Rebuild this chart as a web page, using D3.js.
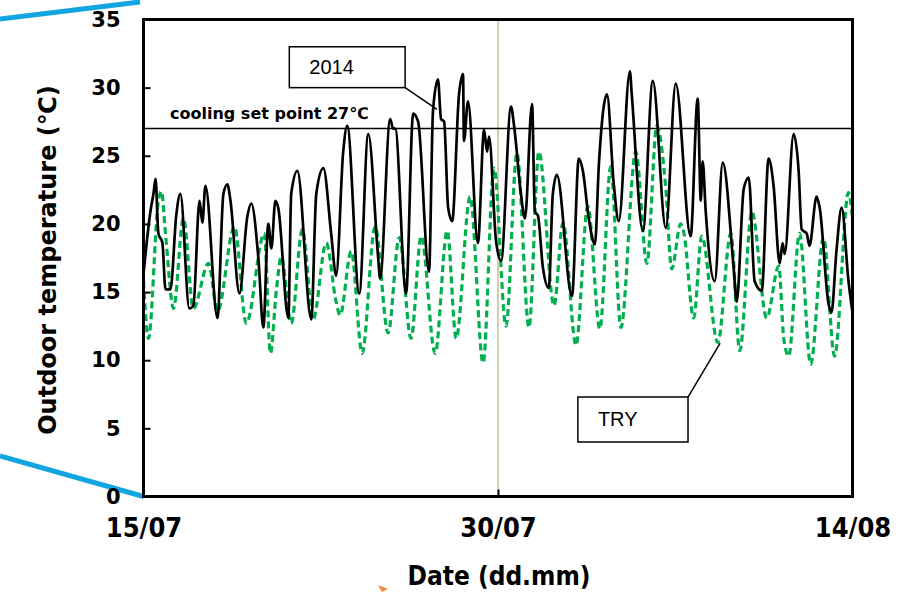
<html>
  <head>
    <meta charset="utf-8">
    <title>Outdoor temperature</title>
    <script src="https://d3js.org/d3.v7.min.js" charset="utf-8"></script>
    <style>
      body { margin: 0; background: #fff; }
      svg { display: block; }
    </style>
  </head>
  <body>
    <div id="chart"></div>

    <script>
      // days after 15/07 and temperatures (°C)
      const obs2014Days = [0.00, 0.30, 0.42, 0.51, 0.63, 0.80, 0.93, 1.14, 1.39, 1.56, 1.94, 2.11, 2.37, 2.49, 2.62,
        3.13, 3.38, 3.55, 3.68, 4.06, 4.39, 4.56, 4.86, 5.07, 5.28, 5.41, 5.58, 5.70, 6.13, 6.25, 6.51,
        7.10, 7.31, 7.61, 7.94, 8.15, 8.45, 8.62, 9.13, 9.51, 9.93, 10.01, 10.44, 10.56, 10.65, 11.11,
        11.41, 11.62, 12.08, 12.25, 12.46, 12.59, 12.72, 12.89, 13.06, 13.35, 13.52, 13.56, 13.73, 14.15,
        14.41, 14.54, 14.62, 14.92, 15.13, 15.55, 15.68, 15.97, 16.14, 16.44, 16.56, 16.69, 16.90, 17.15,
        17.32, 17.49, 18.13, 18.42, 18.59, 18.84, 19.10, 19.27, 19.61, 19.90, 20.11, 20.58, 20.66, 21.13,
        21.55, 22.10, 22.52, 23.15, 23.45, 23.58, 23.66, 23.79, 24.17, 24.51, 24.97, 25.10, 25.40, 25.61,
        25.86, 26.16, 26.45, 26.66, 26.92, 27.04, 27.13, 27.51, 27.72, 27.85, 28.06, 28.18, 28.48, 28.61,
        28.99, 29.11, 29.32, 29.54, 29.83, 30.00];
      const obs2014Temp = [16.3, 21.0, 22.2, 23.3, 19.3, 18.6, 15.2, 15.2, 20.7, 22.2, 13.8, 14.0, 21.7, 20.1, 22.8,
        13.1, 22.2, 22.9, 21.7, 14.9, 20.5, 21.5, 17.5, 12.4, 20.0, 18.2, 21.7, 21.2, 13.1, 22.2, 23.9,
        13.0, 22.2, 24.1, 19.3, 16.2, 25.3, 27.2, 14.9, 26.6, 17.5, 16.0, 27.7, 27.0, 27.0, 14.9,
        28.1, 27.5, 16.5, 28.3, 30.6, 27.7, 27.5, 21.2, 20.2, 29.5, 31.0, 26.1, 29.0, 18.6,
        26.9, 25.3, 26.4, 18.7, 17.3, 28.6, 27.2, 22.2, 20.4, 28.8, 20.9, 20.6, 16.8, 15.3,
        22.2, 23.6, 14.7, 24.8, 23.9, 20.4, 18.5, 24.4, 29.5, 22.9, 20.2, 31.2, 29.5, 19.5,
        30.5, 19.7, 30.3, 19.1, 29.2, 21.7, 24.6, 20.9, 15.8, 24.5, 16.8, 14.3, 22.6, 23.4,
        15.8, 15.1, 24.8, 22.8, 17.1, 18.6, 17.8, 26.6, 23.9, 19.6, 19.3, 18.4, 22.0, 21.2,
        14.1, 13.5, 18.0, 21.2, 15.8, 13.5];

      const tryDays = [0.00, 0.21, 0.63, 0.76, 0.93, 1.27, 1.69, 2.11, 2.75, 3.13, 3.85, 4.35, 5.11, 5.37, 5.62,
        5.83, 6.25, 6.72, 7.18, 7.73, 8.15, 8.32, 8.79, 9.25, 9.80, 10.35, 10.82, 11.32, 11.75, 12.34,
        12.85, 13.23, 13.82, 14.37, 14.83, 15.34, 15.80, 16.31, 16.73, 17.37, 17.75, 18.30, 18.80, 19.31,
        19.77, 20.20, 20.83, 21.30, 21.72, 22.10, 22.35, 22.73, 22.86, 23.28, 23.62, 24.30, 24.85, 25.23,
        25.74, 26.37, 26.88, 27.09, 27.30, 27.76, 28.23, 28.77, 29.24, 29.83, 30.00];
      const tryTemp = [15.8, 11.6, 21.7, 22.4, 19.3, 13.8, 20.4, 13.8, 17.1, 13.6, 19.8, 12.7, 19.3, 10.5, 15.1,
        17.6, 12.7, 19.6, 13.0, 18.6, 14.3, 13.3, 18.0, 10.5, 19.8, 12.0, 19.0, 11.6, 19.1, 10.5,
        19.5, 11.6, 22.0, 9.8, 24.1, 12.5, 25.2, 12.4, 25.3, 14.0, 20.1, 11.1, 21.3, 12.3,
        24.2, 12.4, 25.3, 17.1, 27.2, 22.6, 16.7, 20.0, 19.4, 13.1, 19.1, 11.3, 19.3, 10.7,
        20.9, 13.1, 16.9, 11.6, 10.3, 19.3, 9.7, 19.0, 10.3, 22.3, 20.4];

      const xTickDays = [0, 15, 30];
      const xTickLabels = ["15/07", "30/07", "14/08"];
      const yTicks = [0, 5, 10, 15, 20, 25, 30, 35];
      const setPoint = 27;

      const outerWidth = 916;
      const outerHeight = 592;
      const plot = { left: 143.5, right: 852.5, top: 19.5, bottom: 496.5 };

      const x = d3.scaleLinear().domain([0, 30]).range([plot.left, plot.right]);
      const y = d3.scaleLinear().domain([0, 35]).range([plot.bottom, plot.top]);

      const svg = d3.select("#chart").append("svg")
        .attr("width", outerWidth)
        .attr("height", outerHeight);

      // decoration left over from the slide (zoom lines)
      svg.append("line")
        .attr("x1", 0).attr("y1", 19).attr("x2", 140).attr("y2", 2)
        .attr("stroke", "#12a5e2").attr("stroke-width", 5);
      svg.append("line")
        .attr("x1", 0).attr("y1", 456).attr("x2", x(0)).attr("y2", y(0))
        .attr("stroke", "#12a5e2").attr("stroke-width", 5);
      svg.append("path")
        .attr("d", "M378,585 L388,589 L382,592 Z")
        .attr("fill", "#f08a3c");

      svg.append("defs").append("clipPath").attr("id", "clip")
        .append("rect")
        .attr("x", plot.left).attr("y", plot.top)
        .attr("width", plot.right - plot.left).attr("height", plot.bottom - plot.top);

      // 30/07 marker line
      svg.append("line")
        .attr("x1", x(15)).attr("x2", x(15))
        .attr("y1", plot.top).attr("y2", plot.bottom)
        .attr("stroke", "#d5cdaa").attr("stroke-width", 2);

      // cooling set point
      svg.append("line")
        .attr("x1", plot.left).attr("x2", plot.right)
        .attr("y1", y(setPoint)).attr("y2", y(setPoint))
        .attr("stroke", "#000").attr("stroke-width", 1.5);
      svg.append("text")
        .attr("x", 170).attr("y", y(setPoint) - 10)
        .style("font-family", "'DejaVu Sans', Verdana, sans-serif")
        .style("font-weight", "bold")
        .style("font-size", "16px")
        .text("cooling set point 27℃");

      const line = d3.line()
        .x(d => x(d[0]))
        .y(d => y(d[1]))
        .curve(d3.curveMonotoneX);

      const g = svg.append("g").attr("clip-path", "url(#clip)");

      g.append("path")
        .datum(tryDays.map((d, i) => [d, tryTemp[i]]))
        .attr("fill", "none")
        .attr("stroke", "#00b050")
        .attr("stroke-width", 3.2)
        .attr("stroke-dasharray", "7,4")
        .attr("d", line);

      g.append("path")
        .datum(obs2014Days.map((d, i) => [d, obs2014Temp[i]]))
        .attr("fill", "none")
        .attr("stroke", "#000")
        .attr("stroke-width", 2.7)
        .attr("stroke-linejoin", "round")
        .attr("d", line);

      // axes
      const yAxis = svg.append("g")
        .attr("transform", "translate(" + plot.left + ",0)")
        .call(d3.axisLeft(y).tickValues(yTicks).tickSizeInner(-7).tickSizeOuter(0).tickPadding(23));
      yAxis.select(".domain").remove();
      yAxis.selectAll(".tick line").attr("stroke-width", 2);
      yAxis.selectAll(".tick text")
        .style("font-family", "'DejaVu Sans', Verdana, sans-serif")
        .style("font-weight", "bold")
        .style("font-size", "21px")
        .attr("fill", "#000");

      const xAxis = svg.append("g")
        .attr("transform", "translate(0," + plot.bottom + ")")
        .call(d3.axisBottom(x).tickValues(xTickDays)
          .tickFormat((d, i) => xTickLabels[i])
          .tickSizeInner(-7).tickSizeOuter(0).tickPadding(21));
      xAxis.select(".domain").remove();
      xAxis.selectAll(".tick line").attr("stroke-width", 2);
      xAxis.selectAll(".tick text")
        .style("font-family", "'DejaVu Sans Condensed', 'DejaVu Sans', sans-serif")
        .style("font-weight", "bold")
        .style("font-size", "27px")
        .attr("fill", "#000");

      // frame
      svg.append("rect")
        .attr("x", plot.left).attr("y", plot.top)
        .attr("width", plot.right - plot.left).attr("height", plot.bottom - plot.top)
        .attr("fill", "none").attr("stroke", "#000").attr("stroke-width", 3);

      // axis titles
      svg.append("text")
        .attr("transform", "translate(56," + ((plot.top + plot.bottom) / 2 + 2) + ") rotate(-90)")
        .attr("text-anchor", "middle")
        .style("font-family", "'DejaVu Sans', Verdana, sans-serif")
        .style("font-weight", "bold")
        .style("font-size", "24px")
        .text("Outdoor temperature (℃)");

      svg.append("text")
        .attr("x", 499).attr("y", 585)
        .attr("text-anchor", "middle")
        .style("font-family", "'DejaVu Sans Condensed', 'DejaVu Sans', sans-serif")
        .style("font-weight", "bold")
        .style("font-size", "26px")
        .text("Date (dd.mm)");

      // callouts: box corners and pointer tip in data units
      const callouts = [
        { label: "2014", box: [6.17, 11.07, 33.0, 30.0], from: [11.07, 30.0], to: [12.42, 28.4] },
        { label: "TRY", box: [18.38, 23.04, 7.3, 4.0], from: [23.04, 7.3], to: [24.4, 11.25] }
      ];

      callouts.forEach(c => {
        svg.append("line")
          .attr("x1", x(c.from[0])).attr("y1", y(c.from[1]))
          .attr("x2", x(c.to[0])).attr("y2", y(c.to[1]))
          .attr("stroke", "#000").attr("stroke-width", 1.5);
        svg.append("rect")
          .attr("x", x(c.box[0])).attr("y", y(c.box[2]))
          .attr("width", x(c.box[1]) - x(c.box[0]))
          .attr("height", y(c.box[3]) - y(c.box[2]))
          .attr("fill", "#fff").attr("stroke", "#000").attr("stroke-width", 1.5);
        svg.append("text")
          .attr("x", x(c.box[0]) + 20)
          .attr("y", (y(c.box[2]) + y(c.box[3])) / 2 + 7)
          .style("font-family", "'Liberation Sans', Arial, sans-serif")
          .style("font-size", "20px")
          .text(c.label);
      });
    </script>
  </body>
</html>
